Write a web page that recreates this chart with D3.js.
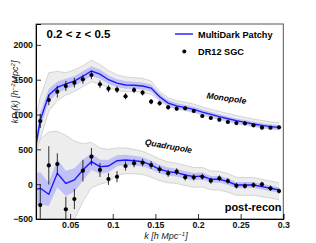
<!DOCTYPE html>
<html>
<head>
<meta charset="utf-8">
<script src="https://cdn.jsdelivr.net/npm/d3@7"></script>
<style>
  body { margin: 0; background: #fff; }
  svg { display: block; font-family: "Liberation Sans", Arial, Helvetica, sans-serif; }
</style>
</head>
<body>
<div id="vis"></div>
<script>
var W = 316, H = 243,
    m = {l: 36, t: 24, r: 32.7, b: 24};

// k bins of the mocks (first bin only shows as the line entering from the left)
var kMock = [0.005, 0.015, 0.025, 0.035, 0.045, 0.055, 0.065, 0.075, 0.085, 0.095,
             0.105, 0.115, 0.125, 0.135, 0.145, 0.155, 0.165, 0.175, 0.185, 0.195,
             0.205, 0.215, 0.225, 0.235, 0.245, 0.255, 0.265, 0.275, 0.285, 0.295];
var kData = kMock.slice(1);

// MultiDark Patchy mean, 1-sigma, and spread of individual mocks
var monoMean = [200, 920, 1280, 1390, 1440, 1480, 1550, 1625, 1580, 1500,
                1450, 1425, 1420, 1410, 1380, 1255, 1165, 1125, 1100, 1075,
                1035, 1003, 970, 940, 912, 888, 864, 845, 826, 815];
var monoSig = [150, 110, 90, 80, 75, 70, 70, 70, 65, 60,
               55, 55, 50, 50, 50, 45, 42, 40, 38, 37,
               36, 35, 34, 33, 32, 32, 31, 31, 30, 30];
var monoHi = [700, 1250, 1600, 1620, 1600, 1640, 1700, 1780, 1720, 1630,
              1570, 1540, 1530, 1520, 1480, 1330, 1240, 1200, 1175, 1150,
              1110, 1075, 1045, 1015, 985, 960, 935, 915, 895, 885];
var monoLo = [-300, 650, 1050, 1200, 1280, 1330, 1400, 1470, 1440, 1390,
              1350, 1330, 1330, 1320, 1290, 1200, 1115, 1080, 1055, 1030,
              990, 960, 928, 898, 870, 847, 825, 808, 790, 780];

var quadMean = [-90, -59, -145, 156, 12, 60, 204, 323, 251, 261,
                337, 347, 337, 323, 275, 214, 180, 165, 132, 108,
                117, 70, 70, 36, -12, -12, -12, -36, -59, -83];
var quadSig = [250, 230, 170, 200, 180, 170, 150, 120, 100, 90,
               80, 75, 70, 65, 62, 60, 58, 56, 54, 52,
               50, 48, 47, 46, 45, 44, 43, 42, 41, 40];
var quadHi = [300, 650, 750, 760, 700, 620, 580, 600, 520, 500,
              520, 520, 500, 470, 420, 360, 320, 300, 270, 240,
              240, 190, 185, 150, 100, 95, 95, 70, 45, 20];
var quadLo = [-800, -700, -650, -500, -600, -500, -250, -50, 0, 30,
              130, 150, 150, 140, 100, 50, 20, 10, -20, -45,
              -40, -80, -85, -115, -160, -160, -160, -180, -200, -225];

// DR12 SGC measurements
var monoData = [907, 1209, 1328, 1410, 1457, 1506, 1568, 1434, 1371, 1357,
                1262, 1352, 1314, 1185, 1162, 1104, 1084, 1090, 1051, 979,
                950, 926, 893, 878, 874, 845, 811, 811, 817];
var monoErr = [100, 75, 85, 72, 70, 65, 60, 55, 50, 48,
               45, 43, 40, 38, 36, 34, 32, 31, 30, 29,
               28, 27, 26, 25, 25, 24, 24, 23, 23];
var quadData = [-300, 270, 288, -361, -213, 194, 395, 204, 74, 107,
                261, 300, 309, 275, 214, 156, 180, 99, 99, 107,
                50, 84, 46, -22, -26, -12, -2, -59, -98];
var quadErr = [290, 275, 155, 180, 145, 155, 125, 100, 85, 80,
               65, 58, 55, 55, 52, 50, 48, 46, 45, 44,
               43, 42, 41, 40, 40, 39, 38, 38, 37];

var xMajor = [0.05, 0.1, 0.15, 0.2, 0.25, 0.3],
    xLabels = ["0.05", "0.1", "0.15", "0.2", "0.25", "0.3"],
    yMajor = [-500, 0, 500, 1000, 1500, 2000];

var x = d3.scaleLinear().domain([0.01, 0.3]).range([m.l, W - m.r]),
    y = d3.scaleLinear().domain([-500, 2300]).range([H - m.b, m.t]);

var svg = d3.select("#vis").append("svg")
    .attr("width", W)
    .attr("height", H);

svg.append("clipPath").attr("id", "clip")
  .append("rect")
    .attr("x", m.l).attr("y", m.t)
    .attr("width", W - m.r - m.l).attr("height", H - m.b - m.t);

var plot = svg.append("g").attr("clip-path", "url(#clip)");

function drawMocks(mean, sig, hi, lo) {
  var idx = d3.range(kMock.length);
  var band = d3.area()
      .x(function(i) { return x(kMock[i]); });
  var edge = d3.line().x(function(i) { return x(kMock[i]); });
  // spread of individual mocks
  plot.append("path")
      .datum(idx)
      .attr("d", band.y0(function(i) { return y(lo[i]); }).y1(function(i) { return y(hi[i]); }))
      .attr("fill", "#ededed");
  [hi, lo].forEach(function(s) {
    plot.append("path")
        .datum(idx)
        .attr("d", edge.y(function(i) { return y(s[i]); }))
        .attr("fill", "none")
        .attr("stroke", "#c6c6c6")
        .attr("stroke-width", 0.7);
  });
  // 1 sigma band
  plot.append("path")
      .datum(idx)
      .attr("d", band.y0(function(i) { return y(mean[i] - sig[i]); }).y1(function(i) { return y(mean[i] + sig[i]); }))
      .attr("fill", "rgb(150,150,255)")
      .attr("fill-opacity", 0.5);
  plot.append("path")
      .datum(idx)
      .attr("d", edge.y(function(i) { return y(mean[i]); }))
      .attr("fill", "none")
      .attr("stroke", "#1a1aff")
      .attr("stroke-width", 1.4);
}

function drawData(vals, errs) {
  var g = plot.append("g");
  g.selectAll("line")
      .data(vals)
    .enter().append("line")
      .attr("x1", function(d, i) { return x(kData[i]); })
      .attr("x2", function(d, i) { return x(kData[i]); })
      .attr("y1", function(d, i) { return y(d - errs[i]); })
      .attr("y2", function(d, i) { return y(d + errs[i]); })
      .attr("stroke", "#000")
      .attr("stroke-width", 0.8);
  g.selectAll("circle")
      .data(vals)
    .enter().append("circle")
      .attr("cx", function(d, i) { return x(kData[i]); })
      .attr("cy", function(d) { return y(d); })
      .attr("r", 2.1)
      .attr("fill", "#000");
}

drawMocks(monoMean, monoSig, monoHi, monoLo);
drawMocks(quadMean, quadSig, quadHi, quadLo);
drawData(monoData, monoErr);
drawData(quadData, quadErr);

// frame
svg.append("rect")
    .attr("x", m.l).attr("y", m.t)
    .attr("width", W - m.r - m.l).attr("height", H - m.b - m.t)
    .attr("fill", "none")
    .attr("stroke", "#555")
    .attr("stroke-width", 1);

// axes
var xAx = svg.append("g").attr("transform", "translate(0," + (H - m.b) + ")");
xAx.call(d3.axisBottom(x).tickValues(d3.range(0.01, 0.3001, 0.01)).tickSize(-2.5).tickFormat(""));
xAx.call(d3.axisBottom(x).tickValues(xMajor).tickSize(-5).tickPadding(3)
    .tickFormat(function(d, i) { return xLabels[i]; }));

var yAx = svg.append("g").attr("transform", "translate(" + m.l + ",0)");
yAx.call(d3.axisLeft(y).tickValues(d3.range(-500, 2301, 100)).tickSize(-2.5).tickFormat(""));
yAx.call(d3.axisLeft(y).tickValues(yMajor).tickSize(-5).tickPadding(3)
    .tickFormat(function(d) { return d < 0 ? "\u2212" + (-d) : d; }));

svg.selectAll(".domain").attr("stroke", "#000");
svg.selectAll(".tick line").attr("stroke", "#000").attr("stroke-width", 0.8);
svg.selectAll(".tick text")
    .attr("font-size", 8.8)
    .attr("font-weight", "bold")
    .attr("fill", "#111")
    .style("font-family", "'Liberation Sans', Arial, sans-serif");

// axis titles
svg.append("text")
    .attr("transform", "translate(18,92) rotate(-90)")
    .attr("text-anchor", "middle")
    .attr("font-size", 9)
    .attr("font-style", "italic")
    .attr("fill", "#222")
    .html('kP<tspan font-size="6.5" dy="2">\u2113</tspan><tspan dy="-2">(k)  [h</tspan><tspan font-size="6" dy="-3.5">\u22122</tspan><tspan dy="3.5">Mpc</tspan><tspan font-size="6" dy="-3.5">2</tspan><tspan dy="3.5">]</tspan>');

svg.append("text")
    .attr("x", 166).attr("y", 239)
    .attr("text-anchor", "middle")
    .attr("font-size", 9)
    .attr("font-style", "italic")
    .attr("fill", "#222")
    .html('k  [h Mpc<tspan font-size="6" dy="-3.5">\u22121</tspan><tspan dy="3.5">]</tspan>');

// annotations
svg.append("text")
    .attr("x", 46.5).attr("y", 37.5)
    .attr("font-size", 11.5)
    .attr("font-weight", "bold")
    .text("0.2 < z < 0.5");

svg.append("line")
    .attr("x1", 175).attr("x2", 193)
    .attr("y1", 34).attr("y2", 34)
    .attr("stroke", "#1a1aff")
    .attr("stroke-width", 1.4);
svg.append("text")
    .attr("x", 198).attr("y", 38.3)
    .attr("font-size", 9.2)
    .attr("font-weight", "bold")
    .text("MultiDark Patchy");
svg.append("circle")
    .attr("cx", 184.3).attr("cy", 51.5)
    .attr("r", 2)
    .attr("fill", "#000");
svg.append("text")
    .attr("x", 198).attr("y", 55)
    .attr("font-size", 9.2)
    .attr("font-weight", "bold")
    .text("DR12 SGC");

svg.append("text")
    .attr("transform", "translate(226,101) rotate(8)")
    .attr("text-anchor", "middle")
    .attr("font-size", 8.5)
    .attr("font-weight", "bold")
    .attr("font-style", "italic")
    .text("Monopole");

svg.append("text")
    .attr("transform", "translate(168,149) rotate(10)")
    .attr("text-anchor", "middle")
    .attr("font-size", 8.5)
    .attr("font-weight", "bold")
    .attr("font-style", "italic")
    .text("Quadrupole");

svg.append("text")
    .attr("x", 281.5).attr("y", 211)
    .attr("text-anchor", "end")
    .attr("font-size", 11)
    .attr("font-weight", "bold")
    .text("post-recon");
</script>
</body>
</html>
